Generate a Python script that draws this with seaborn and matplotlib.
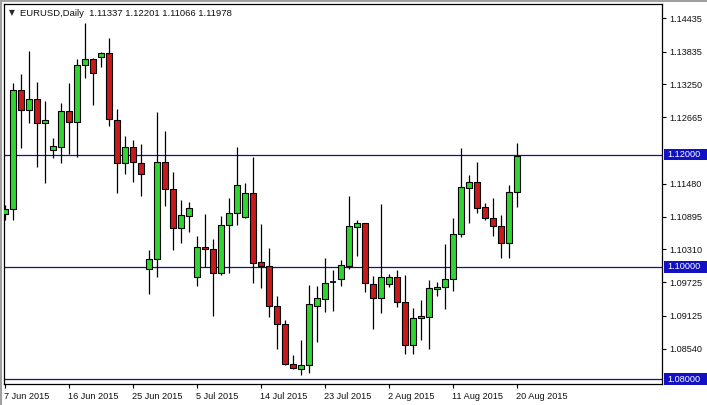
import matplotlib
matplotlib.use("Agg")
import matplotlib.pyplot as plt
import matplotlib.transforms as mtransforms
from matplotlib.patches import Rectangle
from matplotlib.lines import Line2D
import seaborn as sns
import pandas as pd
import numpy as np

# ---------------- data ----------------
symbol_title = "EURUSD,Daily"
last_ohlc_text = "1.11337 1.12201 1.11066 1.11978"

opens = [1.10946, 1.11035, 1.13153, 1.12797, 1.12992, 1.12565, 1.12084, 1.12138, 1.12779, 1.12583,
         1.13598, 1.13705, 1.13741, 1.13812, 1.12619, 1.11853, 1.12138, 1.11853, 1.09967, 1.10145,
         1.11871, 1.11391, 1.10697, 1.10911, 1.09825, 1.10359, 1.10323, 1.09896, 1.10750, 1.10964,
         1.10893, 1.11320, 1.10092, 1.10021, 1.09309, 1.08988, 1.08276, 1.08186, 1.08257, 1.09309,
         1.09434, 1.09736, 1.09790, 1.10021, 1.10715, 1.10786, 1.09701, 1.09451, 1.09701, 1.09825,
         1.09380, 1.08614, 1.09095, 1.09113, 1.09612, 1.09647, 1.09790, 1.10590, 1.11409, 1.11516,
         1.11071, 1.10875, 1.10732, 1.10430, 1.11337]
highs = [1.11106, 1.13277, 1.13438, 1.13847, 1.13295, 1.12957, 1.12298, 1.12921, 1.13277, 1.13705,
         1.14346, 1.13723, 1.13830, 1.14079, 1.12815, 1.12334, 1.12263, 1.12191, 1.10305, 1.12761,
         1.12423, 1.11694, 1.11195, 1.11160, 1.10555, 1.10946, 1.10501, 1.10911, 1.11231, 1.12138,
         1.11498, 1.11960, 1.10768, 1.10341, 1.09487, 1.09059, 1.08436, 1.08703, 1.09682, 1.09665,
         1.10163, 1.09949, 1.10127, 1.11267, 1.10839, 1.10786, 1.09843, 1.11124, 1.09878, 1.09949,
         1.09861, 1.09273, 1.09416, 1.09772, 1.09736, 1.10412, 1.10875, 1.12120, 1.11640, 1.11871,
         1.11142, 1.11231, 1.10928, 1.11462, 1.12201]
lows = [1.10839, 1.10839, 1.12120, 1.12565, 1.11782, 1.11498, 1.11942, 1.11853, 1.12013, 1.11960,
        1.13366, 1.12886, 1.13562, 1.12512, 1.11320, 1.11658, 1.11516, 1.11267, 1.09523, 1.09825,
        1.11088, 1.10305, 1.10430, 1.10626, 1.09665, 1.10003, 1.09131, 1.09861, 1.09896, 1.10750,
        1.10875, 1.09718, 1.09629, 1.09113, 1.08543, 1.08257, 1.08186, 1.08079, 1.08115, 1.08667,
        1.09202, 1.09220, 1.09665, 1.09967, 1.10199, 1.09558, 1.08899, 1.09184, 1.09647, 1.09291,
        1.08454, 1.08454, 1.08703, 1.08543, 1.09487, 1.09255, 1.09576, 1.10537, 1.10786, 1.10964,
        1.10839, 1.10555, 1.10163, 1.10163, 1.11066]
closes = [1.11035, 1.13153, 1.12797, 1.12992, 1.12565, 1.12619, 1.12155, 1.12779, 1.12583, 1.13598,
          1.13705, 1.13456, 1.13812, 1.12636, 1.11853, 1.12138, 1.11871, 1.11658, 1.10145, 1.11871,
          1.11391, 1.10697, 1.10928, 1.11053, 1.10359, 1.10323, 1.09896, 1.10750, 1.10964, 1.11462,
          1.11320, 1.10074, 1.10021, 1.09309, 1.08988, 1.08276, 1.08204, 1.08257, 1.09345, 1.09451,
          1.09718, 1.09736, 1.10038, 1.10732, 1.10786, 1.09718, 1.09451, 1.09825, 1.09825, 1.09380,
          1.08614, 1.09095, 1.09131, 1.09629, 1.09647, 1.09790, 1.10590, 1.11427, 1.11516, 1.11053,
          1.10875, 1.10732, 1.10430, 1.11338, 1.11978]

date_tick_labels = ["7 Jun 2015", "16 Jun 2015", "25 Jun 2015", "5 Jul 2015", "14 Jul 2015",
                    "23 Jul 2015", "2 Aug 2015", "11 Aug 2015", "20 Aug 2015"]
date_tick_bars = [0, 8, 16, 24, 32, 40, 48, 56, 64]
price_ticks = [1.14435, 1.13835, 1.13250, 1.12665, 1.11480, 1.10895, 1.10310,
               1.09725, 1.09125, 1.08540]
level_lines = [1.12000, 1.10000, 1.08000]

# ---------------- style ----------------
sns.set_style("white")
plt.rcParams["font.family"] = ["Liberation Sans", "DejaVu Sans"]

W, H = 707, 405
fig = plt.figure(figsize=(W / 100, H / 100), dpi=100)
fig.patch.set_facecolor("white")

ax_l, ax_r, ax_t, ax_b = 4, 662, 4, 384
ax = fig.add_axes([ax_l / W, 1 - ax_b / H, (ax_r - ax_l) / W, (ax_b - ax_t) / H])
ax.set_facecolor("white")

px = 0.00017825  # price units per pixel
ax.set_xlim(-0.125, 82.125)
ax.set_ylim(1.14435 - (ax_b - 18) * px, 1.14435 + (18 - ax_t) * px)

df = pd.DataFrame({"open": opens, "high": highs, "low": lows, "close": closes})
df["bar"] = np.arange(len(df))

GREEN = "#2fd62f"
RED = "#c81a1a"
LINE = "#14147a"
BOX = "#1212c4"

# level lines
for lv in level_lines:
    ax.axhline(lv, color=LINE, linewidth=0.9, zorder=1)

# wicks
ax.vlines(df["bar"], df["low"], df["high"], color="black", linewidth=0.9, zorder=2)

up = df[df["close"] > df["open"]]
dn = df[df["close"] < df["open"]]
fl = df[df["close"] == df["open"]]
bw = 0.66
ax.bar(up["bar"], up["close"] - up["open"], bottom=up["open"], width=bw,
       color=GREEN, edgecolor="black", linewidth=0.8, zorder=3)
ax.bar(dn["bar"], dn["close"] - dn["open"], bottom=dn["open"], width=bw,
       color=RED, edgecolor="black", linewidth=0.8, zorder=3)
ax.hlines(fl["open"], fl["bar"] - bw / 2, fl["bar"] + bw / 2, color="black", linewidth=1.2, zorder=3)

# axes frame
for s in ax.spines.values():
    s.set_visible(True)
    s.set_color("black")
    s.set_linewidth(0.9)

# right price axis
ax.yaxis.tick_right()
ax.set_yticks(price_ticks)
ax.set_yticklabels([f"{p:.5f}" for p in price_ticks])
ax.tick_params(axis="y", which="both", right=True, left=False, length=3, width=0.8,
               color="black", labelsize=6.6, pad=2, labelcolor="#111111")

# bottom date axis
ax.set_xticks(date_tick_bars)
ax.set_xticklabels(date_tick_labels, ha="left")
ax.tick_params(axis="x", which="both", bottom=True, length=3, width=0.8, color="black",
               labelsize=6.6, pad=2.5, labelcolor="#111111")
for lbl in ax.get_xticklabels():
    lbl.set_transform(lbl.get_transform() + mtransforms.ScaledTranslation(-1 / 100, 0, fig.dpi_scale_trans))

# highlighted level labels on the price scale
blend = mtransforms.blended_transform_factory(ax.transAxes, ax.transData)
bx0 = (664 - ax_l) / (ax_r - ax_l)
bx1 = (707 - ax_l) / (ax_r - ax_l)
bh = 11.5 * px
for lv in level_lines:
    ax.add_patch(Rectangle((bx0, lv - bh / 2), bx1 - bx0, bh, transform=blend,
                           facecolor=BOX, edgecolor="none", clip_on=False, zorder=6))
    ax.text((667 - ax_l) / (ax_r - ax_l), lv, f"{lv:.5f}", transform=blend, color="white",
            fontsize=6.6, va="center", ha="left", clip_on=False, zorder=7)

# title
fig.text(9 / W, 1 - 13 / H, "\u25BC", fontsize=5.5, family="DejaVu Sans", va="center", ha="left")
fig.text(20 / W, 1 - 13 / H, f"{symbol_title}  {last_ohlc_text}", fontsize=6.8,
         va="center", ha="left", color="#111111")

# window frame
fig.add_artist(Line2D([0, 1], [1 - 0.7 / H, 1 - 0.7 / H], transform=fig.transFigure, color="#a0a0a0", linewidth=1.5))
fig.add_artist(Line2D([0.7 / W, 0.7 / W], [0, 1], transform=fig.transFigure, color="#a0a0a0", linewidth=1.5))

fig.savefig("out.png", dpi=100, facecolor="white")
